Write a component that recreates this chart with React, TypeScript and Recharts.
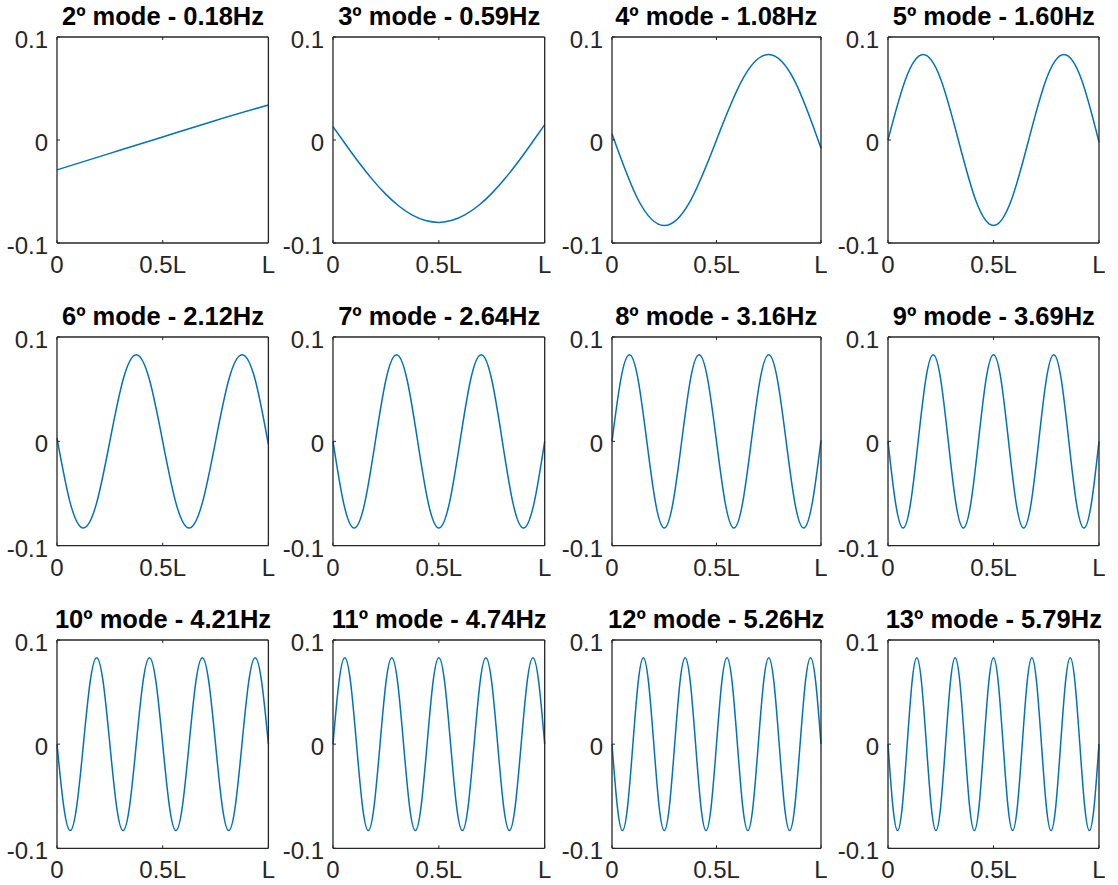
import React from 'react';
import { LineChart, Line, XAxis, YAxis } from 'recharts';

// ---------- data ----------
const titles = [
  '2º mode - 0.18Hz', '3º mode - 0.59Hz', '4º mode - 1.08Hz', '5º mode - 1.60Hz',
  '6º mode - 2.12Hz', '7º mode - 2.64Hz', '8º mode - 3.16Hz', '9º mode - 3.69Hz',
  '10º mode - 4.21Hz', '11º mode - 4.74Hz', '12º mode - 5.26Hz', '13º mode - 5.79Hz',
];

const mode2 = [-0.029, -0.013, 0.003, 0.019, 0.034];
const mode3 = [0.0130, -0.0051, -0.0226, -0.0387, -0.0528, -0.0643, -0.0729, -0.0782, -0.0800,
  -0.0780, -0.0724, -0.0636, -0.0518, -0.0374, -0.0211, -0.0034, 0.0150];
const mode4 = [0.006, -0.058, -0.083, -0.059, 0, 0.059, 0.083, 0.057, -0.008];
const mode5 = [0, 0.059, 0.083, 0.059, 0, -0.059, -0.083, -0.059, 0, 0.059, 0.083, 0.059, -0.002];
const mode6 = [0.003, -0.059, -0.083, -0.059, 0, 0.059, 0.083, 0.059, 0,
  -0.059, -0.083, -0.059, 0, 0.059, 0.083, 0.059, -0.003];
const mode7 = [0, -0.059, -0.083, -0.059, 0, 0.059, 0.083, 0.059, 0,
  -0.059, -0.083, -0.059, 0, 0.059, 0.083, 0.059, 0, -0.059, -0.083, -0.059, 0];
const mode8 = [0, 0.059, 0.083, 0.059, 0, -0.059, -0.083, -0.059, 0,
  0.059, 0.083, 0.059, 0, -0.059, -0.083, -0.059, 0,
  0.059, 0.083, 0.059, 0, -0.059, -0.083, -0.059, 0.001];
const mode9 = [0, -0.059, -0.083, -0.059, 0, 0.059, 0.083, 0.059, 0,
  -0.059, -0.083, -0.059, 0, 0.059, 0.083, 0.059, 0,
  -0.059, -0.083, -0.059, 0, 0.059, 0.083, 0.059, 0,
  -0.059, -0.083, -0.059, 0];
const mode10 = [0, -0.059, -0.083, -0.059, 0, 0.059, 0.083, 0.059, 0,
  -0.059, -0.083, -0.059, 0, 0.059, 0.083, 0.059, 0,
  -0.059, -0.083, -0.059, 0, 0.059, 0.083, 0.059, 0,
  -0.059, -0.083, -0.059, 0, 0.059, 0.083, 0.059, 0];
const mode11 = [0, 0.059, 0.083, 0.059, 0, -0.059, -0.083, -0.059, 0,
  0.059, 0.083, 0.059, 0, -0.059, -0.083, -0.059, 0,
  0.059, 0.083, 0.059, 0, -0.059, -0.083, -0.059, 0,
  0.059, 0.083, 0.059, 0, -0.059, -0.083, -0.059, 0,
  0.059, 0.083, 0.059, 0];
const mode12 = [0, -0.059, -0.083, -0.059, 0, 0.059, 0.083, 0.059, 0,
  -0.059, -0.083, -0.059, 0, 0.059, 0.083, 0.059, 0,
  -0.059, -0.083, -0.059, 0, 0.059, 0.083, 0.059, 0,
  -0.059, -0.083, -0.059, 0, 0.059, 0.083, 0.059, 0,
  -0.059, -0.083, -0.059, 0, 0.059, 0.083, 0.059, 0];
const mode13 = [0, -0.059, -0.083, -0.059, 0, 0.059, 0.083, 0.059, 0,
  -0.059, -0.083, -0.059, 0, 0.059, 0.083, 0.059, 0,
  -0.059, -0.083, -0.059, 0, 0.059, 0.083, 0.059, 0,
  -0.059, -0.083, -0.059, 0, 0.059, 0.083, 0.059, 0,
  -0.059, -0.083, -0.059, 0, 0.059, 0.083, 0.059, 0,
  -0.059, -0.083, -0.059, 0];

const modeShapes = [mode2, mode3, mode4, mode5, mode6, mode7, mode8, mode9, mode10, mode11, mode12, mode13];

const xTicks = [0, 0.5, 1];
const xTickLabels = ['0', '0.5L', 'L'];
const yTicks = [-0.1, 0, 0.1];
const yTickLabels = ['-0.1', '0', '0.1'];

// ---------- layout ----------
const colLayout: [number, number][] = [[57.3, 211.4], [333.3, 211.7], [611.7, 209], [888.3, 211]];
const rowLayout: [number, number][] = [[37.3, 206], [337.3, 208.7], [640, 208.3]];

const AX = '#262626';
const FONT = '"Liberation Sans", Arial, Helvetica, sans-serif';
const TL = 3;
const TICK_FS = 24;
const TITLE_FS = 25.5;

const M_TOP = 20, M_RIGHT = 5, Y_W = 60, X_H = 45;

function BottomTick(props: any) {
  const { x, y, payload } = props;
  const i = xTicks.indexOf(payload.value);
  return (
    <g>
      <line x1={x} x2={x} y1={y} y2={y - TL} stroke={AX} strokeWidth={1} />
      <text x={x} y={y + 13} dy="0.71em" textAnchor="middle" fill={AX} fontSize={TICK_FS} fontFamily={FONT}>
        {xTickLabels[i]}
      </text>
    </g>
  );
}

function TopTick(props: any) {
  const { x, y } = props;
  return <line x1={x} x2={x} y1={y} y2={y + TL} stroke={AX} strokeWidth={1} />;
}

function LeftTick(props: any) {
  const { x, y, payload } = props;
  const i = yTicks.indexOf(payload.value);
  return (
    <g>
      <line x1={x} x2={x + TL} y1={y} y2={y} stroke={AX} strokeWidth={1} />
      <text x={x - 9} y={y + 2.5} dy="0.355em" textAnchor="end" fill={AX} fontSize={TICK_FS} fontFamily={FONT}>
        {yTickLabels[i]}
      </text>
    </g>
  );
}

function RightTick(props: any) {
  const { x, y } = props;
  return <line x1={x} x2={x - TL} y1={y} y2={y} stroke={AX} strokeWidth={1} />;
}

function toRows(ys: number[]) {
  return ys.map((y, i) => ({ x: i / (ys.length - 1), y }));
}

function Panel({ idx }: { idx: number }) {
  const r = Math.floor(idx / 4);
  const c = idx % 4;
  const [pl, pw] = colLayout[c];
  const [pt, ph] = rowLayout[r];
  const W = pw + Y_W + 1 + M_RIGHT;
  const H = ph + M_TOP + 1 + X_H;
  const data = toRows(modeShapes[idx]);
  const axisLine = { stroke: AX, strokeWidth: 1.3 };
  return (
    <div style={{ position: 'absolute', left: pl - Y_W, top: pt - M_TOP - 1, width: W, height: H }}>
      <LineChart width={W} height={H} data={data} margin={{ top: M_TOP, right: M_RIGHT, left: 0, bottom: 0 }}>
        <XAxis xAxisId="b" dataKey="x" type="number" domain={[0, 1]} ticks={xTicks} interval={0}
          orientation="bottom" height={X_H} tickSize={0} tickMargin={0} tickLine={false}
          axisLine={axisLine} tick={<BottomTick />} />
        <XAxis xAxisId="t" dataKey="x" type="number" domain={[0, 1]} ticks={xTicks} interval={0}
          orientation="top" height={1} tickSize={0} tickMargin={0} tickLine={false}
          axisLine={axisLine} tick={<TopTick />} />
        <YAxis yAxisId="l" type="number" domain={[-0.1, 0.1]} ticks={yTicks} interval={0}
          orientation="left" width={Y_W} tickSize={0} tickMargin={0} tickLine={false}
          axisLine={axisLine} tick={<LeftTick />} />
        <YAxis yAxisId="r" type="number" domain={[-0.1, 0.1]} ticks={yTicks} interval={0}
          orientation="right" width={1} tickSize={0} tickMargin={0} tickLine={false}
          axisLine={axisLine} tick={<RightTick />} />
        <Line xAxisId="b" yAxisId="l" dataKey="y" type="natural" stroke="#0072BD" strokeWidth={1.5}
          dot={false} activeDot={false} isAnimationActive={false} />
      </LineChart>
    </div>
  );
}

export default function App() {
  return (
    <div style={{ position: 'absolute', left: 0, top: 0, width: 1118, height: 885, background: '#fff', overflow: 'hidden' }}>
      {titles.map((_, i) => <Panel key={i} idx={i} />)}
      <svg width={1118} height={885} style={{ position: 'absolute', left: 0, top: 0, pointerEvents: 'none' }}>
        {titles.map((t, i) => {
          const r = Math.floor(i / 4);
          const c = i % 4;
          const [pl, pw] = colLayout[c];
          const [pt] = rowLayout[r];
          return (
            <text key={i} x={pl + pw / 2} y={pt - 12.3} textAnchor="middle" fontSize={TITLE_FS}
              fontWeight="bold" fontFamily={FONT} fill="#000">{t}</text>
          );
        })}
      </svg>
    </div>
  );
}
